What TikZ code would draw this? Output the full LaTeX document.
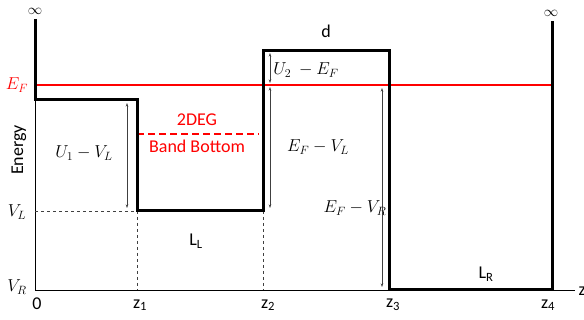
\documentclass[tikz,border=0pt]{standalone}
\usepackage{fontspec}
\setmainfont{Carlito}
\usetikzlibrary{arrows.meta}
\definecolor{fermi}{HTML}{FF0000}
\definecolor{dimgray}{HTML}{404040}

\begin{document}
\begin{tikzpicture}[x=1pt,y=-1pt, font=\fontsize{18}{21}\selectfont,
  wall/.style={line width=3pt},
  dimarrow/.style={{Stealth[length=3.5pt,width=2.5pt]}-{Stealth[length=3.5pt,width=2.5pt]}, line width=0.6pt, dimgray},
  guide/.style={dashed, line width=0.8pt, dimgray}]
  \useasboundingbox (0,0) rectangle (584,320);
  % key points of the potential profile
  \coordinate (o) at (35,290);
  \coordinate (z1b) at (137,290);
  \coordinate (z2b) at (263,290);
  \coordinate (z1l) at (137,211);
  \coordinate (z2l) at (263,211);
  \coordinate (vl) at (35,211);
  \coordinate (zend) at (575,290);
  % axis
  \draw[line width=0.9pt] (35,100) -- (o) -- (zend);
  \draw[guide] (vl) -- (z1l);
  \draw[guide] (z1l) -- (z1b);
  \draw[guide] (z2l) -- (z2b);
  % fermi level
  \draw[fermi, line width=1.5pt] (35,85) -- (552,85);
  \draw[fermi, line width=1.5pt, dash pattern=on 7pt off 4pt] (137,134) -- (259,134);
  % profile
  \draw[wall] (35,19) -- (35,100) -- (137,100) -- (137,211) -- (263,211) -- (263,51)
    -- (389,51) -- (389,290) -- (552,290) -- (552,21);
  % dimensions
  \draw[dimarrow] (127,103) -- (127,208);
  \draw[dimarrow] (270,53) -- (270,83);
  \draw[dimarrow] (270,87) -- (270,208);
  \draw[dimarrow] (382,88) -- (382,287);
  % labels
  \node[font=\fontsize{15}{18}\selectfont, inner sep=0pt] (infl) at (35,11) {$\infty$};
  \node[font=\fontsize{15}{18}\selectfont, inner sep=0pt] (infr) at (551,13) {$\infty$};
  \node (d) at (326,31) {d};
  \node[fermi] (ef) at (17,85) {$E_F$};
  \node (vlt) at (17,212) {$V_L$};
  \node (vrt) at (17,287) {$V_R$};
  \node[rotate=90] (energy) at (19,150) {Energy};
  \node (zero) at (37,304) {0};
  \node (z1) at (140,305) {z\textsubscript{1}};
  \node (z2) at (268,305) {z\textsubscript{2}};
  \node (z3) at (393,305) {z\textsubscript{3}};
  \node (z4) at (548,305) {z\textsubscript{4}};
  \node[anchor=west] (zax) at (575,291) {z};
  \node (u1) at (84,153) {$U_1 - V_L$};
  \node (u2) at (306,70) {$U_2\ - E_F$};
  \node (efvl) at (318,147) {$E_F - V_L$};
  \node (efvr) at (355,208) {$E_F - V_R$};
  \node[fermi] (deg) at (197,120) {2DEG};
  \node[fermi] (band) at (197,146) {Band Bottom};
  \node (ll) at (196,241) {L\textsubscript{L}};
  \node (lr) at (486,274) {L\textsubscript{R}};
\end{tikzpicture}
\end{document}
